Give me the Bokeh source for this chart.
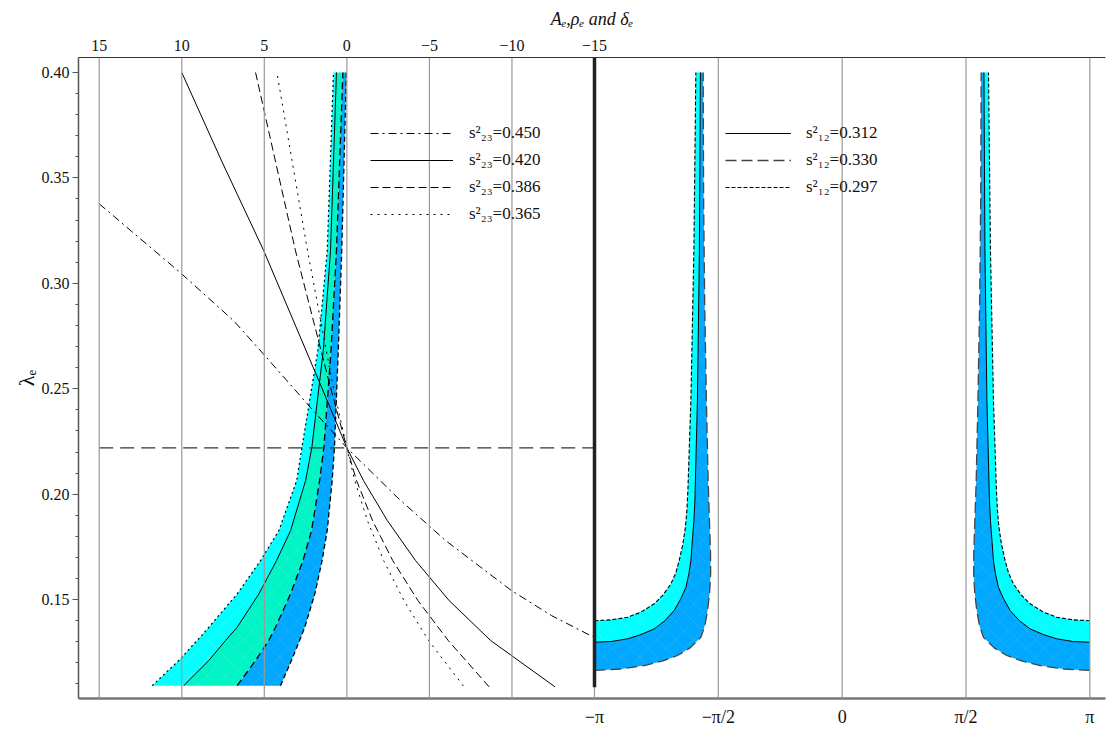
import math
from bokeh.plotting import figure
from bokeh.models import (Range1d, LinearAxis, FixedTicker, Span, Legend, LegendItem,
                          PrintfTickFormatter)
from bokeh.embed import file_html
from bokeh.resources import INLINE

# ---------------- axes / ticks ----------------
A_TICKS = [15, 10, 5, 0, -5, -10, -15]
A_TICK_LABELS = ["15", "10", "5", "0", "−5", "−10", "−15"]
D_TICKS = [-math.pi, -math.pi / 2, 0.0, math.pi / 2, math.pi]
D_TICK_LABELS = ["−π", "−π/2", "0", "π/2", "π"]
LAM_TICKS = [0.15, 0.20, 0.25, 0.30, 0.35, 0.40]
LAM_MINOR = [0.11, 0.12, 0.13, 0.14, 0.15, 0.16, 0.17, 0.18, 0.19, 0.20, 0.21, 0.22,
             0.23, 0.24, 0.25, 0.26, 0.27, 0.28, 0.29, 0.30, 0.31, 0.32, 0.33, 0.34,
             0.35, 0.36, 0.37, 0.38, 0.39, 0.40]
LAMBDA_C = 0.222
LAM_TOP = 0.4071

# ---------------- left panel: s23 curves (A_e vs lambda_e) ----------------
S23_LABELS = ["s²₂₃=0.450", "s²₂₃=0.420", "s²₂₃=0.386", "s²₂₃=0.365"]
s450_A = [15.0, 10.08, 6.85, 5.1, 2.20, 0.0, -3.05, -5.98, -9.97, -12.4, -15.0]
s450_lam = [0.3377, 0.305, 0.2822, 0.2669, 0.2411, 0.222, 0.1985, 0.178, 0.1543, 0.1424, 0.1320]
s420_A = [10.0, 7.56, 5.03, 1.61, 0.0, -1.01, -2.46, -4.16, -6.20, -8.71, -12.61]
s420_lam = [0.400, 0.3576, 0.3154, 0.2522, 0.222, 0.2064, 0.1874, 0.1685, 0.1495, 0.1306, 0.1086]
s386_A = [5.53, 3.11, 1.05, 0.0, -0.59, -1.56, -2.78, -4.31, -6.14, -8.62]
s386_lam = [0.400, 0.3154, 0.2524, 0.222, 0.2064, 0.1874, 0.1685, 0.1495, 0.1306, 0.1086]
s365_A = [4.20, 2.38, 0.87, 0.0, -0.48, -1.25, -2.23, -3.46, -4.95, -7.10]
s365_lam = [0.3983, 0.3154, 0.2524, 0.222, 0.2064, 0.1874, 0.1685, 0.1495, 0.1306, 0.1086]

# ---------------- left panel: bands (boundaries in A_e at given lambda_e) ----------------
BAND_LAM = [0.1092, 0.1211, 0.1306, 0.1369, 0.1527, 0.1685, 0.1827, 0.2064, 0.2222,
            0.2680, 0.3154, 0.400]
BAND_L1 = [11.79, 10.18, 9.07, 8.36, 6.64, 5.23, 4.12, 3.04, 2.72, 1.76, 1.19, 0.81]
BAND_L2 = [9.88, 8.36, 7.35, 6.64, 5.33, 4.26, 3.41, 2.50, 2.12, 1.43, 0.99, 0.63]
BAND_L3 = [6.64, 5.53, 4.73, 4.32, 3.41, 2.66, 2.14, 1.65, 1.39, 0.96, 0.63, 0.24]
BAND_L4 = [4.02, 3.36, 2.86, 2.55, 1.94, 1.50, 1.19, 0.89, 0.75, 0.52, 0.31, 0.03]

# ---------------- right panel: s12 curves (delta_e vs lambda_e) ----------------
S12_LABELS = ["s²₁₂=0.312", "s²₁₂=0.330", "s²₁₂=0.297"]
s297_dL = [-3.1416, -2.934, -2.722, -2.553, -2.384, -2.274, -2.173, -2.109, -2.067,
           -2.020, -1.989, -1.970, -1.957, -1.919, -1.881, -1.856]
s297_dR = [3.1416, 2.934, 2.722, 2.553, 2.384, 2.274, 2.173, 2.109, 2.067,
           2.020, 1.989, 1.970, 1.957, 1.919, 1.881, 1.856]
s297_lam = [0.1400, 0.1404, 0.1416, 0.1441, 0.1480, 0.1521, 0.1574, 0.1628, 0.1685,
            0.1765, 0.1841, 0.1922, 0.2017, 0.2443, 0.3154, 0.400]
s312_dL = [-3.1416, -2.934, -2.722, -2.553, -2.384, -2.248, -2.131, -2.046, -1.982,
           -1.944, -1.919, -1.900, -1.881, -1.868, -1.836, -1.811, -1.798]
s312_dR = [3.1416, 2.934, 2.722, 2.553, 2.384, 2.248, 2.131, 2.046, 1.982,
           1.944, 1.919, 1.900, 1.881, 1.868, 1.836, 1.811, 1.798]
s312_lam = [0.1298, 0.1301, 0.1314, 0.1334, 0.1361, 0.1400, 0.1448, 0.1505, 0.1558,
            0.1623, 0.1685, 0.1780, 0.1874, 0.1969, 0.2443, 0.3154, 0.400]
s330_dL = [-3.1416, -2.807, -2.511, -2.274, -2.088, -1.932, -1.792, -1.741, -1.707,
           -1.681, -1.668, -1.670, -1.683, -1.700, -1.722, -1.744, -1.757, -1.763]
s330_dR = [3.1416, 2.807, 2.511, 2.274, 2.088, 1.932, 1.792, 1.741, 1.707,
           1.681, 1.668, 1.670, 1.683, 1.700, 1.722, 1.744, 1.757, 1.763]
s330_lam = [0.1164, 0.1171, 0.1187, 0.1209, 0.1235, 0.1270, 0.1321, 0.1377, 0.1448,
            0.1533, 0.1623, 0.1732, 0.1874, 0.2064, 0.2443, 0.2917, 0.3391, 0.400]

FONT = "Liberation Serif"
CYAN = "#00FFFF"
AQUA = "#00F5C6"
BLUE = "#00A8FF"

p = figure(width=1109, height=740, output_backend="svg", toolbar_location=None,
           x_range=Range1d(16.254, -45.951), y_range=Range1d(0.1031, LAM_TOP),
           x_axis_location="above", min_border_left=78, min_border_right=4,
           min_border_top=57, min_border_bottom=42)
p.extra_x_ranges = {"delta": Range1d(-9.686, 3.340)}
p.outline_line_color = None
p.grid.visible = False
p.background_fill_color = "white"
p.border_fill_color = "white"

# top axis (A_e, rho_e, delta_e)
tax = p.xaxis[0]
tax.ticker = FixedTicker(ticks=A_TICKS)
tax.major_label_overrides = dict(zip(A_TICKS, A_TICK_LABELS))
tax.major_tick_line_color = None
tax.minor_tick_line_color = None
tax.major_tick_out = 0
tax.major_tick_in = 0
tax.minor_tick_out = 0
tax.minor_tick_in = 0
tax.axis_line_color = "#333333"
tax.axis_line_width = 1.2
tax.major_label_text_font = FONT
tax.major_label_text_font_size = "16px"
tax.major_label_text_color = "#111111"
tax.major_label_standoff = 7
tax.axis_label = "Aₑ,ρₑ and δₑ"
tax.axis_label_text_font = FONT
tax.axis_label_text_font_size = "18px"
tax.axis_label_text_font_style = "italic"
tax.axis_label_text_color = "#111111"
tax.axis_label_standoff = 8

# left axis
yax = p.yaxis[0]
yax.ticker = FixedTicker(ticks=LAM_TICKS, minor_ticks=LAM_MINOR)
yax.formatter = PrintfTickFormatter(format="%.2f")
yax.major_tick_out = 6
yax.major_tick_in = 0
yax.minor_tick_out = 3
yax.minor_tick_in = 0
yax.axis_line_color = "#555555"
yax.axis_line_width = 1.5
yax.major_tick_line_color = "#555555"
yax.minor_tick_line_color = "#555555"
yax.major_label_text_font = FONT
yax.major_label_text_font_size = "16px"
yax.major_label_text_color = "#111111"
yax.major_label_standoff = 3
yax.axis_label = "λₑ"
yax.axis_label_text_font = FONT
yax.axis_label_text_font_size = "22px"
yax.axis_label_text_font_style = "normal"
yax.axis_label_text_color = "#111111"
yax.axis_label_standoff = 0

# bottom axis (delta)
bax = LinearAxis(x_range_name="delta", ticker=FixedTicker(ticks=D_TICKS))
bax.major_label_overrides = dict(zip(D_TICKS, D_TICK_LABELS))
bax.major_tick_line_color = None
bax.minor_tick_line_color = None
bax.major_tick_out = 0
bax.major_tick_in = 0
bax.minor_tick_out = 0
bax.minor_tick_in = 0
bax.axis_label_standoff = 0
bax.axis_line_color = "#777777"
bax.axis_line_width = 2.5
bax.major_label_text_font = FONT
bax.major_label_text_font_size = "18px"
bax.major_label_text_color = "#111111"
bax.major_label_standoff = 8
p.add_layout(bax, "below")

# ---------------- left bands ----------------
hatch = dict(hatch_pattern="diagonal_cross", hatch_color="white", hatch_alpha=0.13,
             hatch_scale=18, hatch_weight=0.7)
p.harea(x1=BAND_L1, x2=BAND_L2, y=BAND_LAM, fill_color=CYAN, **hatch)
p.harea(x1=BAND_L2, x2=BAND_L3, y=BAND_LAM, fill_color=AQUA, **hatch)
p.harea(x1=BAND_L3, x2=BAND_L4, y=BAND_LAM, fill_color=BLUE, **hatch)
p.line(BAND_L1, BAND_LAM, line_color="black", line_width=1.2, line_dash="2 3")
p.line(BAND_L2, BAND_LAM, line_color="black", line_width=1.0)
p.line(BAND_L3, BAND_LAM, line_color="black", line_width=1.3, line_dash="7 4")
p.line(BAND_L4, BAND_LAM, line_color="black", line_width=1.3, line_dash="5 3")

# ---------------- right bands ----------------
cyan_xs = [s297_dL + s312_dL[::-1], s297_dR + s312_dR[::-1]]
cyan_ys = [s297_lam + s312_lam[::-1], s297_lam + s312_lam[::-1]]
blue_xs = [s312_dL + s330_dL[::-1], s312_dR + s330_dR[::-1]]
blue_ys = [s312_lam + s330_lam[::-1], s312_lam + s330_lam[::-1]]
p.patches(cyan_xs, cyan_ys, x_range_name="delta", fill_color=CYAN, line_color=None, **hatch)
p.patches(blue_xs, blue_ys, x_range_name="delta", fill_color=BLUE, line_color=None, **hatch)

r312 = p.multi_line([s312_dL, s312_dR], [s312_lam, s312_lam], x_range_name="delta",
                    line_color="black", line_width=1.0)
r330 = p.multi_line([s330_dL, s330_dR], [s330_lam, s330_lam], x_range_name="delta",
                    line_color="#444444", line_width=1.3, line_dash="11 5")
r297 = p.multi_line([s297_dL, s297_dR], [s297_lam, s297_lam], x_range_name="delta",
                    line_color="black", line_width=1.1, line_dash="4 2")

# ---------------- grid lines ----------------
for a in A_TICKS[:-1]:
    p.add_layout(Span(location=a, dimension="height", line_color="#9a9a9a", line_width=1.2))
for d in D_TICKS:
    p.add_layout(Span(location=d, dimension="height", x_range_name="delta",
                      line_color="#9a9a9a", line_width=1.2))

# thick separator at A = -15 / delta = -pi
p.segment(x0=[A_TICKS[-1]], x1=[A_TICKS[-1]], y0=[min(BAND_LAM) - 0.0008], y1=[LAM_TOP],
          line_color="#222222", line_width=3.5, level="overlay")

# reference lambda line
p.segment(x0=[A_TICKS[0]], x1=[A_TICKS[-1]], y0=[LAMBDA_C], y1=[LAMBDA_C],
          line_color="#333333", line_width=1.2, line_dash="14 7")

# ---------------- s23 curves ----------------
r450 = p.line(s450_A, s450_lam, line_color="black", line_width=1.0, line_dash="8 4 2 4")
r420 = p.line(s420_A, s420_lam, line_color="black", line_width=1.0)
r386 = p.line(s386_A, s386_lam, line_color="black", line_width=1.0, line_dash="8 4")
r365 = p.line(s365_A, s365_lam, line_color="black", line_width=1.0, line_dash="2 5")

common = dict(orientation="vertical", glyph_height=20, label_height=20, spacing=7,
              padding=0, margin=0, border_line_color=None, background_fill_alpha=0,
              label_text_font=FONT, label_text_font_size="17px", label_text_color="#111111")
leg1 = Legend(items=[LegendItem(label=l, renderers=[r]) for l, r in
                     zip(S23_LABELS, [r450, r420, r386, r365])],
              location=(292, 474), glyph_width=83, label_standoff=16, **common)
leg2 = Legend(items=[LegendItem(label=l, renderers=[r]) for l, r in
                     zip(S12_LABELS, [r312, r330, r297])],
              location=(647, 501), glyph_width=66, label_standoff=15, **common)
p.add_layout(leg1)
p.add_layout(leg2)

open("out.html", "w").write(file_html(p, INLINE))
